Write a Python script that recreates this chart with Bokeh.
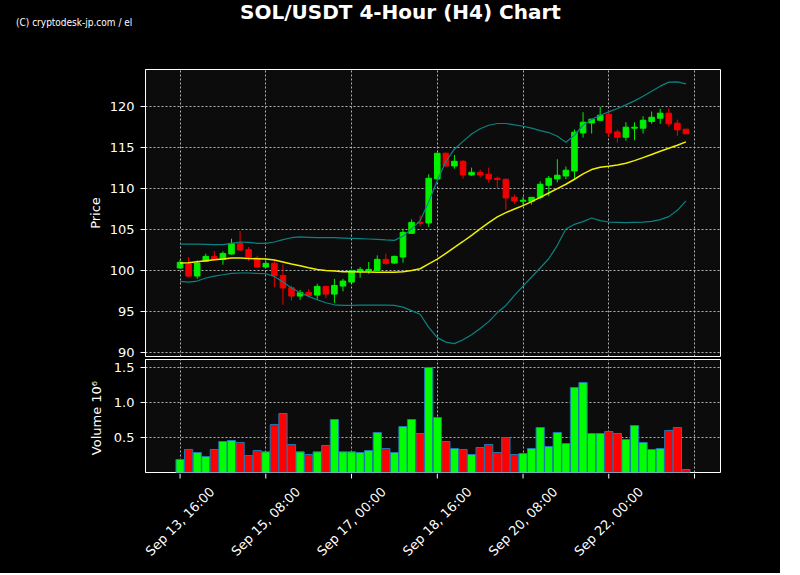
import math
from bokeh.plotting import figure
from bokeh.layouts import column
from bokeh.models import Range1d, FixedTicker
from bokeh.core.properties import value
from bokeh.embed import file_html
from bokeh.resources import INLINE

# ---------------- data ----------------
open_ = [100.33, 100.81, 99.35, 101.14, 101.75, 101.38, 102.03, 103.33, 102.56, 101.54,
         100.45, 100.90, 99.43, 97.93, 96.91, 97.36, 97.03, 98.09, 97.15, 98.13,
         98.62, 99.92, 100.00, 100.04, 101.38, 100.93, 101.67, 104.55, 105.89, 105.81,
         111.18, 114.31, 112.76, 113.33, 111.67, 111.99, 111.75, 111.26, 111.14, 108.94,
         108.46, 108.46, 108.94, 110.41, 111.18, 111.54, 112.15, 116.79, 118.00, 118.33,
         119.07, 116.91, 116.26, 117.36, 117.36, 118.17, 118.58, 119.19, 117.97, 117.24]
high = [101.34, 101.67, 101.26, 102.07, 102.40, 102.36, 103.90, 104.84, 102.89, 101.83,
        101.26, 101.34, 100.77, 98.17, 97.68, 97.76, 98.41, 98.17, 99.02, 99.02,
        100.12, 100.45, 101.06, 101.87, 102.07, 101.83, 105.12, 106.26, 106.71, 111.75,
        114.35, 114.40, 114.10, 113.46, 112.56, 112.32, 112.56, 111.46, 111.22, 109.27,
        109.00, 108.94, 110.89, 111.54, 113.58, 112.68, 117.20, 119.31, 118.50, 119.96,
        119.47, 117.20, 118.09, 118.09, 118.82, 119.39, 119.72, 119.80, 118.41, 117.24]
low = [100.33, 99.23, 99.02, 101.06, 101.26, 100.73, 101.95, 102.40, 101.18, 100.37,
       100.33, 98.00, 95.85, 96.38, 96.46, 96.87, 96.46, 96.70, 96.06, 97.48,
       98.50, 99.15, 99.63, 99.96, 100.73, 100.85, 100.98, 104.47, 105.41, 105.33,
       111.10, 112.64, 112.44, 111.22, 111.54, 111.34, 110.73, 110.08, 107.44, 108.17,
       107.89, 108.05, 108.70, 109.07, 110.77, 111.14, 111.10, 116.22, 116.71, 118.25,
       116.30, 115.61, 115.85, 115.89, 116.71, 117.89, 117.89, 117.56, 116.42, 116.67]
close = [101.02, 99.35, 100.93, 101.75, 101.34, 102.11, 103.33, 102.52, 101.67, 100.45,
         100.90, 99.39, 97.89, 96.91, 97.32, 96.99, 98.09, 97.15, 98.21, 98.74,
         100.00, 100.16, 100.16, 101.38, 100.89, 101.75, 104.67, 105.89, 105.77, 111.26,
         114.31, 112.76, 113.33, 111.67, 111.99, 111.67, 111.18, 111.10, 108.86, 108.50,
         108.58, 108.94, 110.53, 111.26, 111.63, 112.24, 116.87, 118.09, 118.46, 118.94,
         116.79, 116.26, 117.48, 117.48, 118.33, 118.70, 119.19, 117.89, 117.15, 116.67]
# volume in millions
volume = [0.186, 0.329, 0.286, 0.229, 0.329, 0.443, 0.457, 0.429, 0.243, 0.314,
          0.295, 0.686, 0.843, 0.400, 0.295, 0.257, 0.295, 0.386, 0.757, 0.295,
          0.295, 0.286, 0.314, 0.571, 0.343, 0.286, 0.657, 0.757, 0.557, 1.500,
          0.786, 0.443, 0.343, 0.329, 0.257, 0.357, 0.400, 0.286, 0.500, 0.257,
          0.271, 0.343, 0.643, 0.371, 0.571, 0.414, 1.214, 1.286, 0.557, 0.557,
          0.586, 0.557, 0.471, 0.671, 0.429, 0.329, 0.343, 0.600, 0.643, 0.043]
sma_mid = [100.93, 100.98, 101.10, 101.22, 101.34, 101.42, 101.54, 101.54, 101.50, 101.46,
           101.42, 101.30, 101.06, 100.81, 100.61, 100.37, 100.16, 100.04, 99.96, 99.88,
           99.88, 99.84, 99.84, 99.82, 99.80, 99.80, 99.88, 100.02, 100.24, 100.83,
           101.42, 102.10, 102.85, 103.56, 104.31, 105.10, 105.87, 106.56, 107.07, 107.52,
           107.93, 108.41, 108.94, 109.47, 110.00, 110.53, 111.14, 111.79, 112.32, 112.60,
           112.72, 112.89, 113.09, 113.41, 113.78, 114.15, 114.55, 114.92, 115.28, 115.69]
band_upper = [103.25, 103.25, 103.25, 103.21, 103.17, 103.17, 103.33, 103.50, 103.46, 103.33,
              103.33, 103.50, 103.78, 104.02, 104.11, 104.07, 104.02, 104.02, 104.02, 103.98,
              103.94, 103.90, 103.86, 103.82, 103.75, 103.70, 104.20, 105.10, 106.10, 108.40,
              111.00, 113.30, 114.80, 115.75, 116.65, 117.30, 117.72, 117.93, 117.93, 117.76,
              117.60, 117.36, 117.07, 116.83, 116.38, 115.65, 116.50, 117.72, 118.41, 118.94,
              119.35, 119.76, 120.20, 120.69, 121.26, 121.87, 122.48, 122.97, 123.01, 122.76]
band_lower = [98.70, 98.62, 98.74, 99.11, 99.35, 99.51, 99.67, 99.72, 99.72, 99.67,
              99.63, 99.31, 98.62, 97.89, 97.32, 96.87, 96.46, 96.10, 95.85, 95.77,
              95.77, 95.81, 95.81, 95.81, 95.81, 95.77, 95.57, 95.14, 94.70, 93.10,
              91.85, 91.30, 91.12, 91.60, 92.20, 92.95, 93.80, 94.90, 95.77, 96.99,
              98.13, 99.23, 100.33, 101.46, 103.09, 105.08, 105.65, 105.98, 106.42, 106.10,
              105.93, 105.89, 105.85, 105.89, 105.93, 106.02, 106.22, 106.59, 107.36, 108.50]
tick_pos = [0, 10, 20, 30, 40, 50, 60]
tick_labels = ["Sep 13, 16:00", "Sep 15, 08:00", "Sep 17, 00:00", "Sep 18, 16:00",
               "Sep 20, 08:00", "Sep 22, 00:00", ""]
price_ticks = [90, 95, 100, 105, 110, 115, 120]
vol_ticks = [0.5, 1.0, 1.5]
vol_tick_labels = ["0.5", "1.0", "1.5"]
title_text = "SOL/USDT 4-Hour (H4) Chart"
credit_text = "(C) cryptodesk-jp.com / el"

# ---------------- styling / geometry ----------------
FONT = "DejaVu Sans"
BG = "#000000"
FRAME_BG = "#0c0c0c"
GRID = "#b4b4b4"
UPC, DNC = "#00f000", "#f00000"
VUP, VDN = "#00ff00", "#ff0000"

W = 780                   # canvas width
LEFT, FW = 145, 575       # frame left edge and width
RIGHT = W - LEFT - FW
HEAD_H = 69               # header height (frame top of price panel)
P1_H, P1_B = 287, 3
P2_H, P2_B = 113, 1
FOOT_H = 100
X0, X1 = -4.03, 63.03

n = len(close)
idx = list(range(n))
is_up = [c >= o for o, c in zip(open_, close)]
ccol = [UPC if u else DNC for u in is_up]
vcol = [VUP if u else VDN for u in is_up]
body_top = [max(o, c) for o, c in zip(open_, close)]
body_bot = [min(o, c) for o, c in zip(open_, close)]

x_range = Range1d(X0, X1)
BLACK_HOST = {"background-color": "black"}


def bare(p):
    p.background_fill_color = BG
    p.border_fill_color = BG
    p.outline_line_color = None
    p.axis.visible = False
    p.grid.visible = False
    p.styles = BLACK_HOST


def style(p):
    p.background_fill_color = FRAME_BG
    p.border_fill_color = BG
    p.outline_line_color = "white"
    p.outline_line_width = 1
    p.styles = BLACK_HOST
    p.grid.grid_line_color = GRID
    p.grid.grid_line_dash = "2 2"
    p.grid.grid_line_width = 1
    for ax in p.axis:
        ax.axis_line_color = "white"
        ax.major_tick_line_color = "white"
        ax.minor_tick_line_color = None
        ax.major_tick_in = 0
        ax.major_tick_out = 5
        ax.major_label_text_color = "white"
        ax.major_label_text_font = FONT
        ax.major_label_text_font_size = "13px"
        ax.axis_label_text_color = "white"
        ax.axis_label_text_font = FONT
        ax.axis_label_text_font_size = "13px"
        ax.axis_label_text_font_style = "normal"


# ---- header: title + credit (pixel coordinates, y downwards) ----
head = figure(width=W, height=HEAD_H, x_range=Range1d(0, W), y_range=Range1d(HEAD_H, 0),
              min_border=0, frame_align=False, output_backend="svg", toolbar_location=None)
bare(head)
head.text(x=[400], y=[11], text=[title_text], text_align="center", text_baseline="middle",
          text_color="white", text_font=value(FONT), text_font_size="20px",
          text_font_style="bold")
head.text(x=[15.5], y=[21.5], text=[credit_text], text_align="left", text_baseline="middle",
          text_color="white",
          text_font=value("Liberation Sans Narrow, DejaVu Sans Condensed, Liberation Sans"),
          text_font_size="10px")

# ---- price panel ----
p1 = figure(x_range=x_range, y_range=Range1d(89.55, 124.51),
            frame_width=FW, frame_height=P1_H,
            min_border_left=LEFT, min_border_right=RIGHT, min_border_top=0,
            min_border_bottom=P1_B, output_backend="svg", toolbar_location=None)
style(p1)
p1.xaxis.visible = False
p1.xgrid.ticker = FixedTicker(ticks=tick_pos)
p1.yaxis.ticker = FixedTicker(ticks=price_ticks)
p1.yaxis.axis_label = "Price"
p1.yaxis.major_label_standoff = 6
p1.yaxis.axis_label_standoff = 4

p1.segment(x0=idx, y0=low, x1=idx, y1=high, line_color=ccol, line_width=1)
p1.vbar(x=idx, width=0.65, top=body_top, bottom=body_bot,
        fill_color=ccol, line_color=ccol, line_width=1)
p1.line(idx, band_upper, line_color="#0b8282", line_width=1.2)
p1.line(idx, band_lower, line_color="#0b8282", line_width=1.2)
p1.line(idx, sma_mid, line_color="#f0f000", line_width=1.5)

# ---- volume panel ----
p2 = figure(x_range=x_range, y_range=Range1d(0, 1.614),
            frame_width=FW, frame_height=P2_H,
            min_border_left=LEFT, min_border_right=RIGHT, min_border_top=0,
            min_border_bottom=P2_B, output_backend="svg", toolbar_location=None)
style(p2)
p2.xaxis.visible = False
p2.xgrid.ticker = FixedTicker(ticks=tick_pos)
p2.yaxis.ticker = FixedTicker(ticks=vol_ticks)
p2.yaxis.major_label_overrides = {t: s for t, s in zip(vol_ticks, vol_tick_labels)}
p2.yaxis.axis_label = "Volume  10\u2076"
p2.yaxis.major_label_standoff = 6
p2.yaxis.axis_label_standoff = 7

p2.vbar(x=idx, width=0.96, top=volume, bottom=0, fill_color=vcol,
        line_color="#1f77b4", line_width=1)

# ---- footer: date axis ticks and rotated labels, same index scale ----
px_per_unit = FW / (X1 - X0)
foot = figure(width=W, height=FOOT_H,
              x_range=Range1d(X0 - LEFT / px_per_unit, X1 + RIGHT / px_per_unit),
              y_range=Range1d(FOOT_H, 0), min_border=0, frame_align=False,
              output_backend="svg", toolbar_location=None)
bare(foot)
foot.segment(x0=tick_pos, y0=[0] * len(tick_pos), x1=tick_pos, y1=[5] * len(tick_pos),
             line_color="white", line_width=1)
foot.text(x=tick_pos, y=[48] * len(tick_pos), text=tick_labels, angle=math.pi / 4,
          text_align="center", text_baseline="middle", text_color="white",
          text_font=value(FONT), text_font_size="13px")

layout = column(head, p1, p2, foot, spacing=0)
layout.styles = BLACK_HOST

html = file_html(layout, INLINE)
html = html.replace("<body>", '<body style="background-color:black;">', 1)
open("out.html", "w").write(html)
